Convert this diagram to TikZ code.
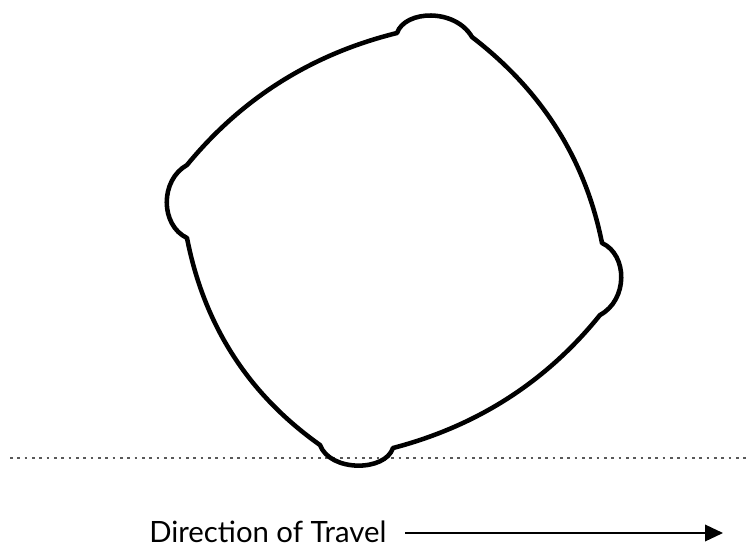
\documentclass[tikz,border=0pt]{standalone}
\usepackage{fontspec}
\setmainfont{Lato}
\usetikzlibrary{arrows.meta}

\begin{document}
\begin{tikzpicture}[x=0.75pt,y=-0.75pt]
  \useasboundingbox (0,0) rectangle (747,547);
  % ground line
  \draw[line width=1.1pt,gray!70!black,dash pattern=on 2pt off 3.5pt] (10,458) -- (747,458);
  % rolling wheel
  \draw[line width=3.4pt,line join=round]
    (397,33) .. controls (405,10) and (455,8) .. (472,37)
    .. controls (541,90) and (585,158) .. (602,243)
    .. controls (628,255) and (628,300) .. (600,315)
    .. controls (546,382) and (477,426) .. (393,448)
    .. controls (385,472) and (330,472) .. (320,445)
    .. controls (248,394) and (204,325) .. (187,238)
    .. controls (160,225) and (160,180) .. (187,165)
    .. controls (242,98) and (312,54) .. (397,33) -- cycle;
  % label and arrow
  \node[anchor=base west,inner sep=0pt,font=\fontsize{22}{26}\selectfont] (travel) at (149,542) {Direction of Travel};
  \coordinate (arrowstart) at (405,533);
  \coordinate (arrowend) at (723,533);
  \draw[line width=1.1pt,-{Triangle[length=13.5pt,width=12.5pt]}] (arrowstart) -- (arrowend);
\end{tikzpicture}
\end{document}
